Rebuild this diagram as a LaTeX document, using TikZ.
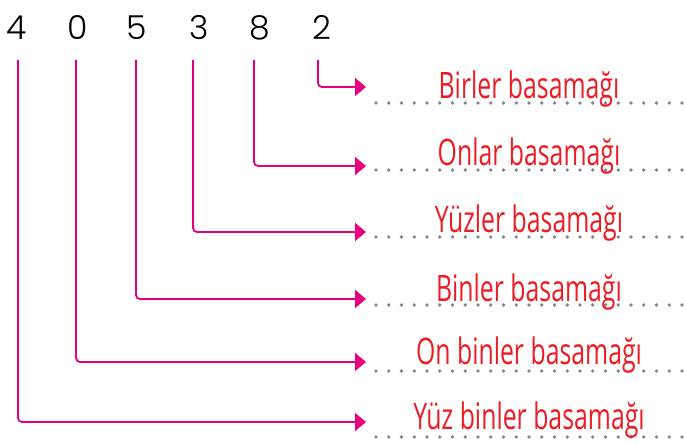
\documentclass[tikz,border=0pt]{standalone}
\usepackage{fontspec}
\usetikzlibrary{arrows.meta}
\newfontfamily\digitfont{Poppins Light}
\newfontfamily\labelfont[FakeStretch=0.68]{Open Sans}
\definecolor{linepink}{HTML}{E6007E}
\definecolor{labelred}{HTML}{EC1C24}
\definecolor{dotgray}{HTML}{85858A}
\begin{document}
\begin{tikzpicture}[x=1pt,y=-1pt,
  digit/.style={inner sep=0pt,anchor=base,font=\digitfont\fontsize{33}{33}\selectfont,text=black},
  lbl/.style={inner sep=0pt,anchor=base,font=\labelfont\fontsize{36.5}{37}\selectfont,text=labelred},
  conn/.style={draw=linepink,line width=1.8pt,rounded corners=4pt,-{Triangle[length=11pt,width=18pt]}},
  dotdot/.style={fill=dotgray}]
\useasboundingbox (0,0) rectangle (686,443);
% digits
\node[digit] (d6) at (17,40) {4};
\node[digit] (d5) at (78,40) {0};
\node[digit] (d4) at (137,40) {5};
\node[digit] (d3) at (199,40) {3};
\node[digit] (d2) at (260,40) {8};
\node[digit] (d1) at (322,40) {2};
% connector start and end points
\coordinate (s1) at (318,60); \coordinate (e1) at (366,87);
\coordinate (s2) at (254,60); \coordinate (e2) at (366,166);
\coordinate (s3) at (193,60); \coordinate (e3) at (366,232);
\coordinate (s4) at (136,60); \coordinate (e4) at (366,299);
\coordinate (s5) at (76,60);  \coordinate (e5) at (366,362);
\coordinate (s6) at (18,60);  \coordinate (e6) at (366,422);
\foreach \i in {1,...,6}{
  \draw[conn] (s\i) |- (e\i);
}
% dotted lines
\foreach \yy in {103,170,237,305,371,437}{
  \foreach \k in {0,...,24}{
    \fill[dotdot] (376+\k*12.75,\yy) circle (1.8pt);
  }
}
% labels
\node[lbl] (l1) at (529,99) {Birler basamağı};
\node[lbl] (l2) at (529,166) {Onlar basamağı};
\node[lbl] (l3) at (529,233) {Yüzler basamağı};
\node[lbl] (l4) at (529,302) {Binler basamağı};
\node[lbl] (l5) at (529,365) {On binler basamağı};
\node[lbl] (l6) at (529,430) {Yüz binler basamağı};
\end{tikzpicture}
\end{document}
